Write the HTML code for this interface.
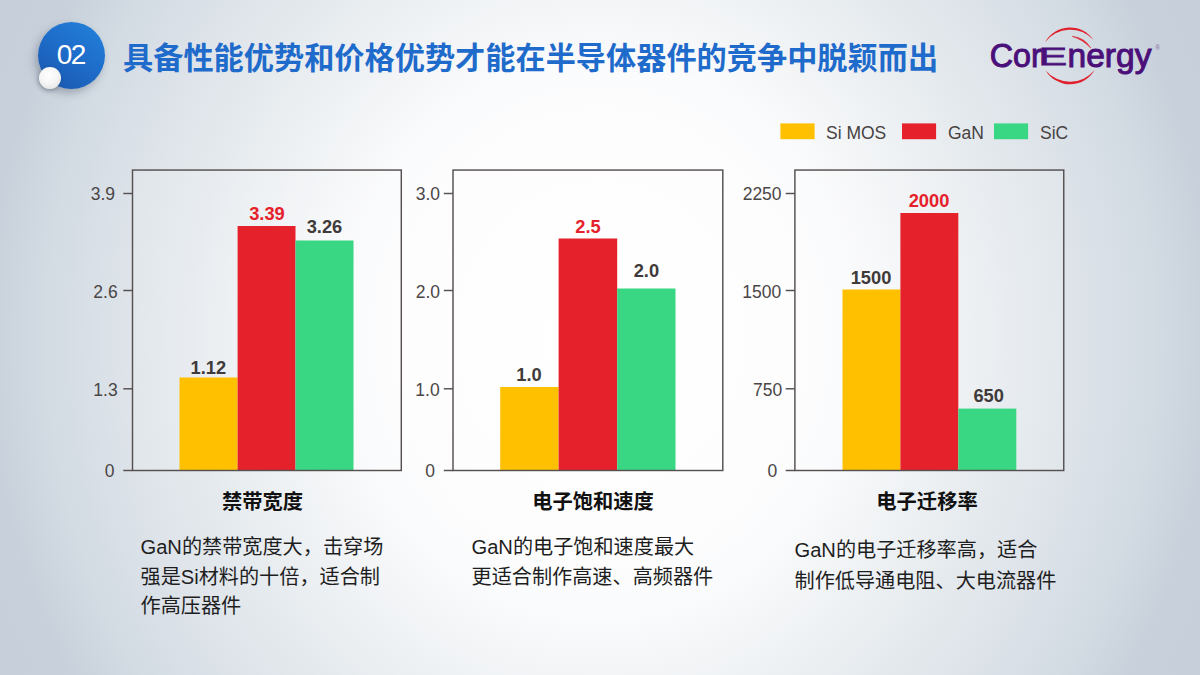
<!DOCTYPE html>
<html lang="zh-CN">
<head>
<meta charset="utf-8">
<title>具备性能优势和价格优势才能在半导体器件的竞争中脱颖而出</title>
<style>
*{margin:0;padding:0;box-sizing:border-box;}
html,body{width:1200px;height:675px;overflow:hidden;}
body{font-family:"Liberation Sans","Noto Sans CJK SC",sans-serif;color:#262626;position:relative;
background:
 radial-gradient(ellipse 614px 672px at 600px 338px, #ffffff 0%, #fdfdfe 33%, #fafbfc 41%, #f3f5f7 50%, #ebeff2 60%, #e5eaee 66.7%, #dde3e9 78%, #d3dbe3 90%, #c8d1db 100%, #c5ced9 114%);
}
.abs{position:absolute;}
/* header */
.badge{position:absolute;left:38px;top:22px;width:67px;height:67px;border-radius:50%;
 background:linear-gradient(215deg,#2383dc 0%,#1e6ecb 45%,#1a55ab 100%);
 box-shadow:-3px 4px 8px rgba(60,70,90,.35);}
.badge span{position:absolute;left:0;top:0;width:67px;height:67px;line-height:65px;text-align:center;color:#fff;font-size:28px;letter-spacing:-1.5px;text-indent:-1.5px;}
.ball{position:absolute;left:38.5px;top:67.3px;width:22px;height:22px;border-radius:50%;
 background:radial-gradient(circle at 45% 35%,#ffffff 0%,#f6f6f6 45%,#dcdcdc 100%);
 box-shadow:-1px 2px 4px rgba(40,50,70,.35);}
h1{position:absolute;left:123px;top:36.7px;font-size:30.2px;line-height:44px;font-weight:700;color:#1f6bcb;white-space:nowrap;letter-spacing:0;}
/* legend */
.lg{position:absolute;top:122px;font-size:17.5px;line-height:22px;color:#474242;white-space:nowrap;}
/* charts */
.yl{position:absolute;font-size:17.5px;line-height:20px;color:#4a4646;text-align:right;width:60px;white-space:nowrap;margin-top:1px;}
.v{position:absolute;width:80px;text-align:center;font-weight:700;font-size:18.3px;line-height:20px;color:#403a3a;margin-top:0px;}
.v.red{color:#e5212b;}
.ct{position:absolute;top:487.5px;width:270px;text-align:center;font-weight:700;font-size:20.3px;line-height:28px;color:#111;}
.p{position:absolute;font-size:20.15px;line-height:30px;color:#1e1e1e;white-space:nowrap;}
</style>
</head>
<body>
<div class="badge"><span>02</span></div>
<div class="ball"></div>
<h1>具备性能优势和价格优势才能在半导体器件的竞争中脱颖而出</h1>

<!-- logo -->
<svg class="abs" style="left:980px;top:15px;" width="200" height="85" viewBox="0 0 200 85">
 <path d="M65.1 27.2 A28.4 28.4 0 0 1 113.6 25.1 A31.4 31.4 0 0 0 65.1 27.2 Z" fill="#e0202c"/>
 <path d="M92 21.3 Q104.5 22.5 110.8 33 Q102.5 24.5 92 21.3 Z" fill="#e0202c" stroke="#e0202c" stroke-width="0.5"/>
 <path d="M65.6 55.4 A28.4 28.4 0 0 0 114.6 55.1 A31.8 31.8 0 0 1 65.6 55.4 Z" fill="#e0202c"/>
 <text font-family="Liberation Sans, sans-serif" fill="#4b0f7a" stroke="#4b0f7a"><tspan x="9.7" y="51.8" font-size="33.5" stroke-width="1.0" textLength="52" lengthAdjust="spacingAndGlyphs">Cor</tspan><tspan x="58.5" y="50.4" font-size="24.5" stroke-width="0.8" textLength="28.5" lengthAdjust="spacingAndGlyphs">E</tspan><tspan x="87.5" y="51.8" font-size="33.5" stroke-width="1.0" textLength="84" lengthAdjust="spacingAndGlyphs">nergy</tspan></text>
 <text x="175.3" y="35.2" font-family="Liberation Sans, sans-serif" font-size="6.5" fill="#8a68a8">®</text>
</svg>

<!-- legend -->
<div class="lg" style="left:826px;">Si MOS</div>
<div class="lg" style="left:948px;">GaN</div>
<div class="lg" style="left:1040px;">SiC</div>

<svg class="abs" style="left:0;top:0;" width="1200" height="675" viewBox="0 0 1200 675">
<g fill="rgba(255,255,255,0.13)" stroke="none">
<rect x="132.5" y="170.05" width="268.80" height="300.45"/>
<rect x="453.0" y="170.05" width="269.80" height="300.45"/>
<rect x="794.9" y="170.05" width="268.85" height="300.45"/>
</g>
<g stroke="none">
<rect x="780.4" y="123.4" width="34.2" height="15.8" fill="#ffc000"/>
<rect x="902" y="123.4" width="34.1" height="15.8" fill="#e5212b"/>
<rect x="994" y="123.4" width="34.1" height="15.8" fill="#39d683"/>
<rect x="179.5" y="377.5" width="58.10" height="92.80" fill="#ffc000"/>
<rect x="237.6" y="226.0" width="57.90" height="244.30" fill="#e5212b"/>
<rect x="295.5" y="240.5" width="58.00" height="229.80" fill="#39d683"/>
<rect x="500.2" y="387.0" width="58.40" height="83.30" fill="#ffc000"/>
<rect x="558.6" y="238.5" width="58.60" height="231.80" fill="#e5212b"/>
<rect x="617.2" y="288.5" width="58.30" height="181.80" fill="#39d683"/>
<rect x="842.5" y="289.5" width="57.90" height="180.80" fill="#ffc000"/>
<rect x="900.4" y="213.0" width="57.90" height="257.30" fill="#e5212b"/>
<rect x="958.3" y="408.6" width="58.00" height="61.70" fill="#39d683"/>
</g>
<g fill="none" stroke="#565050" stroke-width="1.45">
<rect x="132.5" y="170.05" width="268.80" height="300.45"/>
<rect x="453.0" y="170.05" width="269.80" height="300.45"/>
<rect x="794.9" y="170.05" width="268.85" height="300.45"/>
</g><g stroke="#565050" stroke-width="1.45" fill="none">
<path d="M123.3 193.5H132.5"/>
<path d="M123.3 290.5H132.5"/>
<path d="M123.3 388.8H132.5"/>
<path d="M123.3 470.5H132.5"/>
<path d="M443.8 193.5H453.0"/>
<path d="M443.8 290.5H453.0"/>
<path d="M443.8 388.8H453.0"/>
<path d="M443.8 470.5H453.0"/>
<path d="M785.7 193.5H794.9"/>
<path d="M785.7 290.5H794.9"/>
<path d="M785.7 388.8H794.9"/>
<path d="M785.7 470.5H794.9"/>
</g></svg>
<!-- chart 1 -->
<div class="yl" style="left:55px;top:183px;">3.9</div>
<div class="yl" style="left:57.7px;top:281px;">2.6</div>
<div class="yl" style="left:57.7px;top:379px;">1.3</div>
<div class="yl" style="left:54.6px;top:460px;">0</div>
<div class="v" style="left:168.3px;top:358px;">1.12</div>
<div class="v red" style="left:227px;top:204px;">3.39</div>
<div class="v" style="left:284.5px;top:217px;">3.26</div>
<div class="ct" style="left:127.5px;">禁带宽度</div>
<div class="p" style="left:140.5px;top:532.8px;line-height:29.75px;">GaN的禁带宽度大，击穿场<br>强是Si材料的十倍，适合制<br>作高压器件</div>

<!-- chart 2 -->
<div class="yl" style="left:380.1px;top:183px;">3.0</div>
<div class="yl" style="left:380.1px;top:280.5px;">2.0</div>
<div class="yl" style="left:379.7px;top:379px;">1.0</div>
<div class="yl" style="left:375.1px;top:460px;">0</div>
<div class="v" style="left:489px;top:365px;">1.0</div>
<div class="v red" style="left:548px;top:217px;">2.5</div>
<div class="v" style="left:606.4px;top:261px;">2.0</div>
<div class="ct" style="left:458px;">电子饱和速度</div>
<div class="p" style="left:471.5px;top:531.6px;line-height:30px;">GaN的电子饱和速度最大<br>更适合制作高速、高频器件</div>

<!-- chart 3 -->
<div class="yl" style="left:721.6px;top:183px;">2250</div>
<div class="yl" style="left:721.3px;top:281px;">1500</div>
<div class="yl" style="left:722.3px;top:379px;">750</div>
<div class="yl" style="left:717.3px;top:460px;">0</div>
<div class="v" style="left:831px;top:268px;">1500</div>
<div class="v red" style="left:889px;top:191px;">2000</div>
<div class="v" style="left:948.7px;top:386px;">650</div>
<div class="ct" style="left:792px;">电子迁移率</div>
<div class="p" style="left:794.5px;top:535px;line-height:31px;">GaN的电子迁移率高，适合<br>制作低导通电阻、大电流器件</div>
</body>
</html>
